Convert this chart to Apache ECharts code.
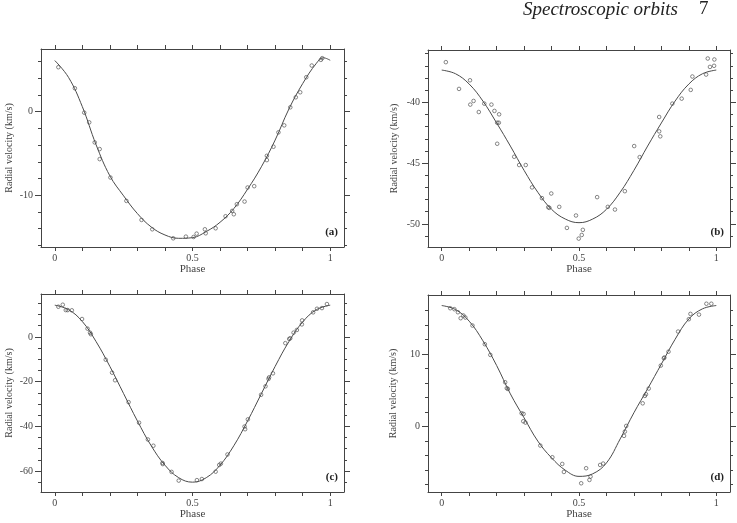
<!DOCTYPE html>
<html>
<head>
<meta charset="utf-8">
<script src="https://cdn.jsdelivr.net/npm/echarts@6/dist/echarts.min.js"></script>
<style>
  html, body { margin: 0; padding: 0; background: #fff; }
  #chart { width: 737px; height: 523px; }
</style>
</head>
<body>
<div id="chart"></div>
<script>
// phase axis ticks (shared by all four panels)
const phaseTicks = [0, 0.1, 0.2, 0.3, 0.4, 0.5, 0.6, 0.7, 0.8, 0.9, 1];
const phaseLabels = [0, 0.5, 1];
const curvePhase = [0, 0.05, 0.1, 0.15, 0.2, 0.25, 0.3, 0.35, 0.4, 0.45, 0.5,
  0.55, 0.6, 0.65, 0.7, 0.75, 0.8, 0.85, 0.9, 0.95, 1];

// panel (a)
const aPhase = [0.013, 0.073, 0.107, 0.125, 0.145, 0.163, 0.163, 0.202, 0.260, 0.315,
  0.354, 0.430, 0.476, 0.504, 0.515, 0.545, 0.548, 0.584, 0.620, 0.644, 0.650, 0.661,
  0.689, 0.700, 0.724, 0.770, 0.770, 0.794, 0.812, 0.833, 0.855, 0.875, 0.891, 0.913,
  0.933, 0.966, 0.971];
const aVel = [5.32, 2.8, -0.12, -1.28, -3.68, -4.48, -5.68, -7.88, -10.68, -12.96,
  -14.08, -15.16, -14.96, -15.0, -14.6, -14.08, -14.56, -13.96, -12.52, -11.88, -12.28, -11.08,
  -10.76, -9.08, -8.92, -5.28, -5.8, -4.2, -2.48, -1.64, 0.52, 1.72, 2.32, 4.12,
  5.52, 6.2, 6.4];
const aCurvePhase = [0, 0.05, 0.1, 0.15, 0.2, 0.25, 0.3, 0.35, 0.4, 0.45, 0.5,
  0.55, 0.6, 0.65, 0.7, 0.75, 0.8, 0.85, 0.9, 0.95, 0.975, 1];
const aCurveVel = [6.12, 4.1, 0.6, -3.96, -7.68, -10.08, -12.2, -13.8, -14.76, -15.16, -15.08,
  -14.35, -13.24, -11.6, -9.28, -6.6, -3.4, 0.32, 3.36, 5.8, 6.45, 6.15];
const aMinor = [-16, -14, -12, -10, -8, -6, -4, -2, 0, 2, 4, 6];
const aMajor = [-10, 0];

// panel (b)
const bPhase = [0.015, 0.063, 0.103, 0.104, 0.116, 0.135, 0.155, 0.181, 0.192, 0.209,
  0.202, 0.208, 0.202, 0.264, 0.282, 0.306, 0.329, 0.365, 0.388, 0.392, 0.399, 0.428,
  0.456, 0.489, 0.499, 0.510, 0.514, 0.566, 0.605, 0.631, 0.667, 0.701, 0.721, 0.792,
  0.792, 0.796, 0.840, 0.874, 0.907, 0.913, 0.963, 0.969, 0.977, 0.992, 0.993];
const bVel = [-36.70, -38.90, -38.19, -40.19, -39.89, -40.80, -40.11, -40.19, -40.71, -40.99,
  -41.68, -41.68, -43.41, -44.48, -45.16, -45.16, -47.0, -47.88, -48.63, -48.68, -47.5, -48.60,
  -50.33, -49.31, -51.21, -50.91, -50.49, -47.80, -48.60, -48.82, -47.31, -43.60, -44.51, -41.21,
  -42.39, -42.80, -40.11, -39.70, -38.98, -37.88, -37.72, -36.40, -37.09, -37.0, -36.48];
const bCurveVel = [-37.35, -37.65, -38.5, -39.9, -41.7, -43.6, -45.6, -47.4, -48.8, -49.6, -49.9,
  -49.6, -48.8, -47.4, -45.6, -43.6, -41.7, -39.9, -38.5, -37.65, -37.35];
const bMinor = [-51, -50, -49, -48, -47, -46, -45, -44, -43, -42, -41, -40, -39, -38, -37, -36];
const bMajor = [-50, -45, -40];

// panel (c)
const cPhase = [0.013, 0.029, 0.040, 0.047, 0.062, 0.099, 0.119, 0.128, 0.131, 0.185,
  0.208, 0.219, 0.268, 0.306, 0.338, 0.358, 0.391, 0.392, 0.424, 0.450, 0.516, 0.534,
  0.584, 0.597, 0.603, 0.627, 0.689, 0.691, 0.701, 0.749, 0.765, 0.776, 0.778, 0.792,
  0.837, 0.851, 0.855, 0.867, 0.879, 0.897, 0.898, 0.938, 0.952, 0.970, 0.988];
const cVel = [13.5, 14.4, 12.0, 12.0, 11.9, 8.0, 3.7, 1.9, 1.2, -10.2,
  -16.0, -19.4, -29.2, -38.4, -45.9, -48.7, -56.4, -56.9, -60.4, -64.3, -64.1, -63.6,
  -60.3, -57.3, -56.7, -52.6, -40.1, -41.3, -36.9, -25.9, -22.1, -18.8, -18.1, -16.3,
  -2.8, -0.9, -0.6, 1.9, 3.1, 5.6, 7.4, 11.0, 12.6, 12.9, 14.7];
const cCurveVel = [14.2, 12.2, 6.9, -2.1, -13.2, -25.4, -37.6, -48.7, -57.4, -63.0, -65.0,
  -63.0, -57.4, -48.7, -37.6, -25.4, -13.2, -2.1, 6.7, 12.2, 14.2];
const cMinor = [-65, -60, -55, -50, -45, -40, -35, -30, -25, -20, -15, -10, -5, 0, 5, 10, 15];
const cMajor = [-60, -40, -20, 0];

// panel (d)
const dPhase = [0.031, 0.046, 0.059, 0.069, 0.079, 0.086, 0.112, 0.157, 0.177, 0.231,
  0.237, 0.241, 0.291, 0.298, 0.297, 0.305, 0.359, 0.403, 0.439, 0.445, 0.508, 0.526,
  0.538, 0.542, 0.577, 0.588, 0.664, 0.667, 0.672, 0.732, 0.740, 0.744, 0.754, 0.798,
  0.809, 0.811, 0.826, 0.861, 0.900, 0.906, 0.937, 0.964, 0.982];
const dVel = [16.28, 16.15, 15.73, 14.91, 15.28, 15.0, 13.9, 11.33, 9.86, 6.10,
  5.28, 5.18, 1.83, 1.74, 0.73, 0.55, -2.61, -4.22, -5.14, -6.24, -7.80, -5.73,
  -7.34, -6.88, -5.28, -5.09, -1.28, -0.69, 0.09, 3.2, 4.22, 4.45, 5.23, 8.39,
  9.4, 9.5, 10.3, 13.07, 14.77, 15.5, 15.4, 16.9, 16.9];
const dCurveVel = [16.65, 16.1, 14.5, 11.8, 8.4, 4.5, 1.2, -2.0, -4.3, -6.0, -6.85,
  -6.5, -5.0, -1.7, 1.9, 5.2, 8.6, 12.0, 14.8, 16.2, 16.65];
const dMinor = [-8, -6, -4, -2, 0, 2, 4, 6, 8, 10, 12, 14, 16];
const dMajor = [0, 10];

const ink = '#444';
const serif = '"Liberation Serif", "DejaVu Serif", serif';

const panels = [
  { tag: '(a)', rect: [41, 49, 303, 198], y: [-16.2, 7.5], minor: aMinor, major: aMajor,
    px: aPhase, py: aVel, cx: aCurvePhase, cy: aCurveVel, gap: 27 },
  { tag: '(b)', rect: [428, 50, 302, 197], y: [-51.9, -35.7], minor: bMinor, major: bMajor,
    px: bPhase, py: bVel, cx: curvePhase, cy: bCurveVel, gap: 29 },
  { tag: '(c)', rect: [41, 294, 303, 198], y: [-69.4, 19.2], minor: cMinor, major: cMajor,
    px: cPhase, py: cVel, cx: curvePhase, cy: cCurveVel, gap: 27 },
  { tag: '(d)', rect: [428, 295, 302, 197], y: [-9.0, 18.1], minor: dMinor, major: dMajor,
    px: dPhase, py: dVel, cx: curvePhase, cy: dCurveVel, gap: 30 },
];

const grid = [], xAxis = [], yAxis = [], series = [], graphic = [];
const zip = (a, b) => a.map((v, i) => [v, b[i]]);

panels.forEach((p, i) => {
  const [left, top, width, height] = p.rect;
  grid.push({ left, top, width, height });

  const lineStyle = { color: ink, width: 1 };
  const label = { color: ink, fontFamily: serif, fontSize: 10 };

  // bottom and top phase axes
  xAxis.push({
    gridIndex: i, type: 'value', min: -0.05, max: 1.05, position: 'bottom',
    axisLine: { show: true, onZero: false, lineStyle },
    axisTick: { show: true, customValues: phaseTicks, length: 4, lineStyle },
    axisLabel: { ...label, customValues: phaseLabels, margin: 6 },
    splitLine: { show: false },
    name: 'Phase', nameLocation: 'middle', nameGap: 14,
    nameTextStyle: { color: ink, fontFamily: serif, fontSize: 11 },
  });
  xAxis.push({
    gridIndex: i, type: 'value', min: -0.05, max: 1.05, position: 'top',
    axisLine: { show: true, onZero: false, lineStyle },
    axisTick: { show: true, customValues: phaseTicks, length: 4, lineStyle },
    axisLabel: { show: false },
    splitLine: { show: false },
  });

  // left / right velocity axes: minor ticks + labels, then longer major ticks
  ['left', 'right'].forEach(side => {
    yAxis.push({
      gridIndex: i, type: 'value', min: p.y[0], max: p.y[1], position: side,
      axisLine: { show: true, onZero: false, lineStyle },
      axisTick: { show: true, customValues: p.minor, length: 3, lineStyle },
      axisLabel: side === 'left'
        ? { ...label, customValues: p.major, margin: 8 }
        : { show: false },
      splitLine: { show: false },
      name: side === 'left' ? 'Radial velocity (km/s)' : '',
      nameLocation: 'middle', nameGap: p.gap, nameRotate: 90,
      nameTextStyle: { color: ink, fontFamily: serif, fontSize: 10 },
    });
    yAxis.push({
      gridIndex: i, type: 'value', min: p.y[0], max: p.y[1], position: side,
      axisLine: { show: false, onZero: false },
      axisTick: { show: true, customValues: p.major, length: 6, lineStyle },
      axisLabel: { show: false },
      splitLine: { show: false },
    });
  });

  series.push({
    type: 'line', xAxisIndex: 2 * i, yAxisIndex: 4 * i,
    data: zip(p.cx, p.cy), smooth: 0.4,
    showSymbol: false, lineStyle: { color: '#4a4a4a', width: 1 }, silent: true,
  });
  series.push({
    type: 'scatter', xAxisIndex: 2 * i, yAxisIndex: 4 * i,
    data: zip(p.px, p.py), symbol: 'circle', symbolSize: 3.6,
    itemStyle: { color: 'rgba(255,255,255,0)', borderColor: '#444', borderWidth: 0.8 },
  });

  graphic.push({
    type: 'text', right: 737 - (left + width) + 6, top: top + height - 20,
    style: { text: p.tag, font: 'bold 11px ' + serif, fill: '#222' },
  });
});

graphic.push({
  type: 'text', left: 523, top: 0,
  style: { text: 'Spectroscopic orbits', font: 'italic 19px ' + serif, fill: '#222' },
});
graphic.push({
  type: 'text', left: 699, top: 0,
  style: { text: '7', font: '19px ' + serif, fill: '#222' },
});

const chart = echarts.init(document.getElementById('chart'));
chart.setOption({
  animation: false,
  grid, xAxis, yAxis, series, graphic,
});
</script>
</body>
</html>
